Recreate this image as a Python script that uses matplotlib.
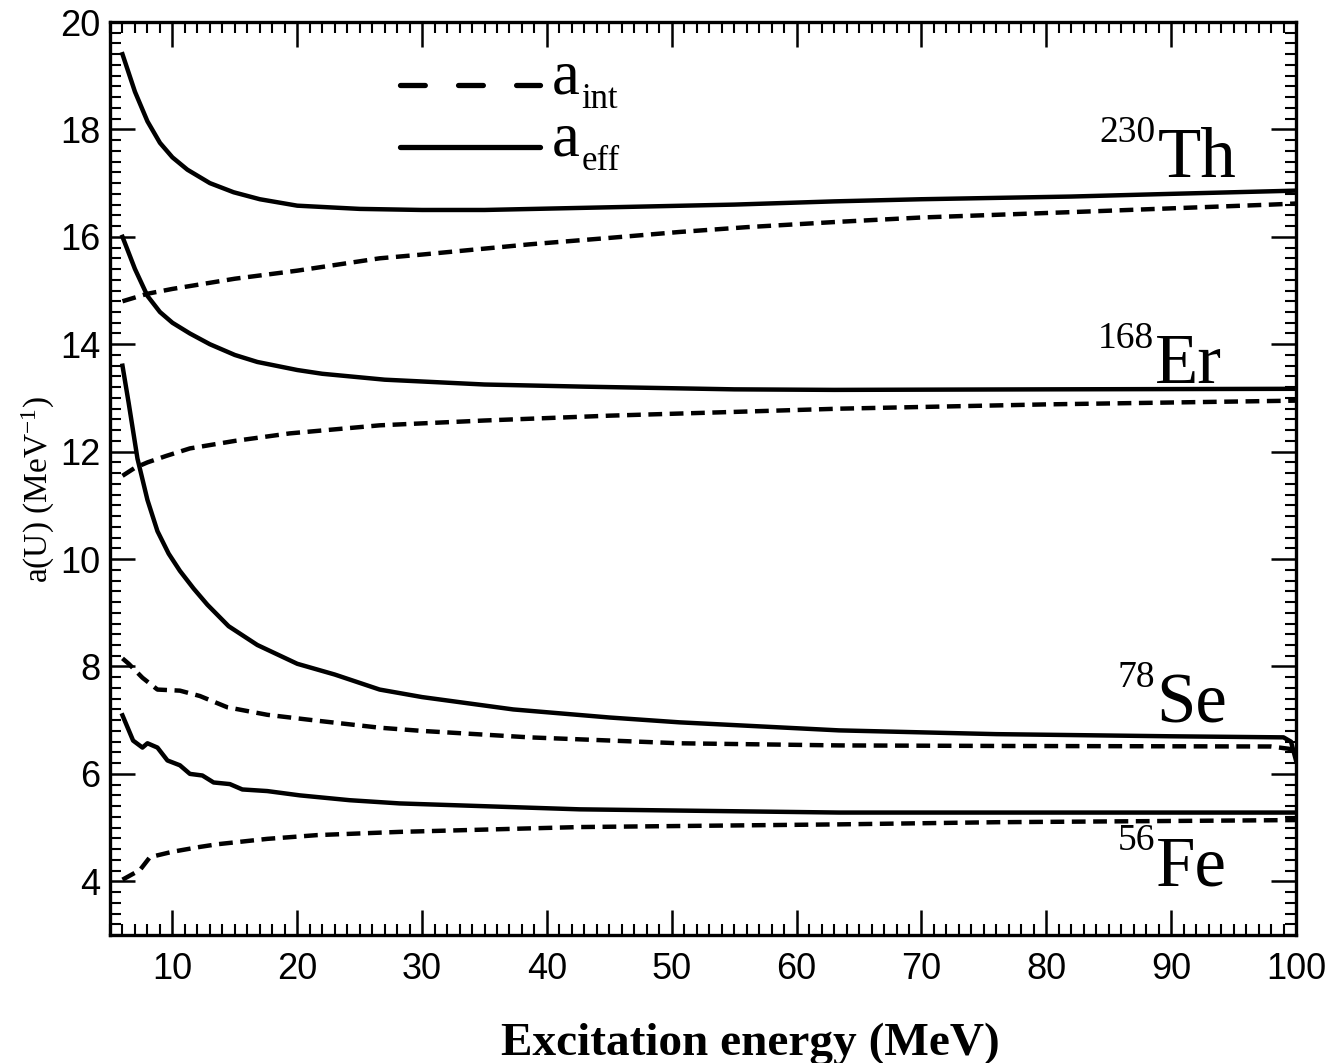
import numpy as np
import matplotlib
matplotlib.use('Agg')
import matplotlib.pyplot as plt
from matplotlib.ticker import MultipleLocator

plt.rcParams['mathtext.fontset'] = 'custom'
plt.rcParams['mathtext.rm'] = 'Liberation Serif'
plt.rcParams['mathtext.it'] = 'Liberation Serif:italic'
plt.rcParams['mathtext.bf'] = 'Liberation Serif:bold'

# parametres de densite de niveaux a(U) en fonction de l'energie d'excitation
th_x_eff = [6, 6.5, 7, 8, 9, 10, 11.2, 13, 14.9, 17, 20, 25, 30, 35, 45, 55, 63, 70, 82, 90, 100]
th_eff = [19.4, 19.05, 18.7, 18.15, 17.75, 17.48, 17.25, 17.0, 16.83, 16.7, 16.58, 16.52, 16.5, 16.5,
          16.55, 16.6, 16.66, 16.7, 16.75, 16.8, 16.86]
th_x_int = [6, 8, 10, 15, 20, 26.6, 30, 38.6, 45, 50.6, 56, 63.4, 70, 82, 90, 98, 100]
th_int = [14.8, 14.94, 15.03, 15.22, 15.37, 15.6, 15.67, 15.86, 15.98, 16.09, 16.18, 16.28, 16.36,
          16.46, 16.53, 16.6, 16.62]

er_x_eff = [6, 6.5, 7, 8, 9, 10, 11.4, 13, 15, 16.8, 20, 22, 27, 35, 43, 55, 63, 80, 100]
er_eff = [16.0, 15.7, 15.4, 14.9, 14.6, 14.4, 14.2, 14.0, 13.8, 13.67, 13.52, 13.45, 13.34, 13.25,
          13.21, 13.16, 13.15, 13.16, 13.17]
er_x_int = [6, 7, 8, 9.5, 11.4, 15, 19.4, 26.6, 35, 45, 55, 63.4, 80, 100]
er_int = [11.55, 11.7, 11.8, 11.92, 12.06, 12.2, 12.34, 12.49, 12.58, 12.67, 12.74, 12.8, 12.88, 12.95]

se_x_eff = [6, 6.5, 7.2, 8, 8.8, 9.7, 10.6, 11.7, 12.8, 14.5, 16.8, 20, 23, 26.6, 30, 37.3, 45, 50.6,
            63.4, 76, 90, 99, 99.6, 100]
se_eff = [13.6, 12.9, 11.87, 11.1, 10.52, 10.1, 9.78, 9.45, 9.15, 8.75, 8.4, 8.05, 7.85, 7.57, 7.43,
          7.2, 7.05, 6.96, 6.81, 6.74, 6.7, 6.68, 6.6, 6.25]
se_x_int = [6, 6.5, 7.6, 8.8, 10.6, 12.2, 14.4, 17.6, 21.6, 26.6, 30, 38.6, 50.6, 63.4, 76, 98, 100]
se_int = [8.15, 8.05, 7.79, 7.57, 7.55, 7.45, 7.24, 7.1, 6.99, 6.86, 6.8, 6.68, 6.57, 6.53, 6.52, 6.51,
          6.45]

fe_x_eff = [6, 6.85, 7.6, 8.0, 8.8, 9.6, 10.6, 11.4, 12.4, 13.3, 14.6, 15.6, 17.6, 20.2, 24.2, 28.2,
            42.6, 63.4, 76, 100]
fe_eff = [7.09, 6.62, 6.49, 6.57, 6.49, 6.25, 6.16, 6.0, 5.97, 5.84, 5.81, 5.71, 5.68, 5.6, 5.51, 5.45,
          5.34, 5.28, 5.28, 5.28]
fe_x_int = [6, 7.4, 8.2, 10, 12.2, 13.6, 17.6, 21.6, 28.2, 42.6, 63.4, 76, 100]
fe_int = [4.03, 4.21, 4.45, 4.55, 4.64, 4.69, 4.79, 4.86, 4.92, 5.01, 5.06, 5.1, 5.14]

noyaux = ['Th', 'Er', 'Se', 'Fe']
masses = ['230', '168', '78', '56']
noyaux_pos = [(95.2, 17.12), (94.1, 13.27), (94.5, 6.96), (94.5, 3.93)]

fig = plt.figure(figsize=(13.43, 10.63), dpi=100)
ax = fig.add_axes([110/1343, 1 - 935/1063, 1186/1343, 913/1063])

lw = 3.2
for xe, ye, xi, yi in [(th_x_eff, th_eff, th_x_int, th_int),
                       (er_x_eff, er_eff, er_x_int, er_int),
                       (se_x_eff, se_eff, se_x_int, se_int),
                       (fe_x_eff, fe_eff, fe_x_int, fe_int)]:
    ax.plot(xe, ye, color='black', lw=lw, solid_joinstyle='round')
    ax.plot(xi, yi, color='black', lw=lw, dashes=(3.1, 1.7))

# symbole de l'element puis nombre de masse en exposant a gauche
for sym, A, (x, y) in zip(noyaux, masses, noyaux_pos):
    t = ax.text(x, y, sym, family='Liberation Serif', fontsize=51, ha='right', va='baseline')
    ax.annotate(A, xy=(0, 0), xycoords=t, xytext=(-1, 36), textcoords='offset points',
                family='Liberation Serif', fontsize=27, ha='right', va='baseline')

# legende dessinee a la main
ax.plot([0.2445, 0.3626], [0.931, 0.931], transform=ax.transAxes, color='black', lw=lw + 0.6,
        dashes=(4.7, 6.3), dash_capstyle='round')
ax.plot([0.2445, 0.3626], [0.863, 0.863], transform=ax.transAxes, color='black', lw=lw + 0.6,
        solid_capstyle='round')
for yb, sub in [(93, 'int'), (155, 'eff')]:
    a = ax.text(0.3727, 1 - (yb - 22) / 913, 'a', transform=ax.transAxes,
                family='Liberation Serif', fontsize=45, va='baseline')
    ax.annotate(sub, xy=(1, 0), xycoords=a, xytext=(1, -1), textcoords='offset points',
                family='Liberation Serif', fontsize=25, ha='left', va='baseline')

ax.set_xlim(5, 100)
ax.set_ylim(3, 20)
ax.xaxis.set_major_locator(MultipleLocator(10))
ax.xaxis.set_minor_locator(MultipleLocator(1))
ax.yaxis.set_major_locator(MultipleLocator(2))
ax.yaxis.set_minor_locator(MultipleLocator(0.2))
ax.tick_params(which='both', direction='in', top=True, right=True, labelsize=26)
ax.tick_params(which='major', length=18, width=1.8)
ax.tick_params(which='minor', length=8, width=1.5)
ax.tick_params(axis='x', which='major', pad=12)
ax.tick_params(axis='y', which='major', pad=7)
for lab in ax.get_xticklabels() + ax.get_yticklabels():
    lab.set_family('Liberation Sans')
for s in ax.spines.values():
    s.set_linewidth(2.4)

fig.text(750/1343, 1 - 1055/1063, 'Excitation energy (MeV)', family='Liberation Serif',
         fontweight='bold', fontsize=34, ha='center', va='baseline')
fig.text(38/1343, 1 - 490/1063, r'a(U) (MeV$^{\mathrm{-1}}$)', family='Liberation Serif',
         fontsize=24, rotation=90, ha='center', va='center')

fig.savefig('out.png', dpi=100)
